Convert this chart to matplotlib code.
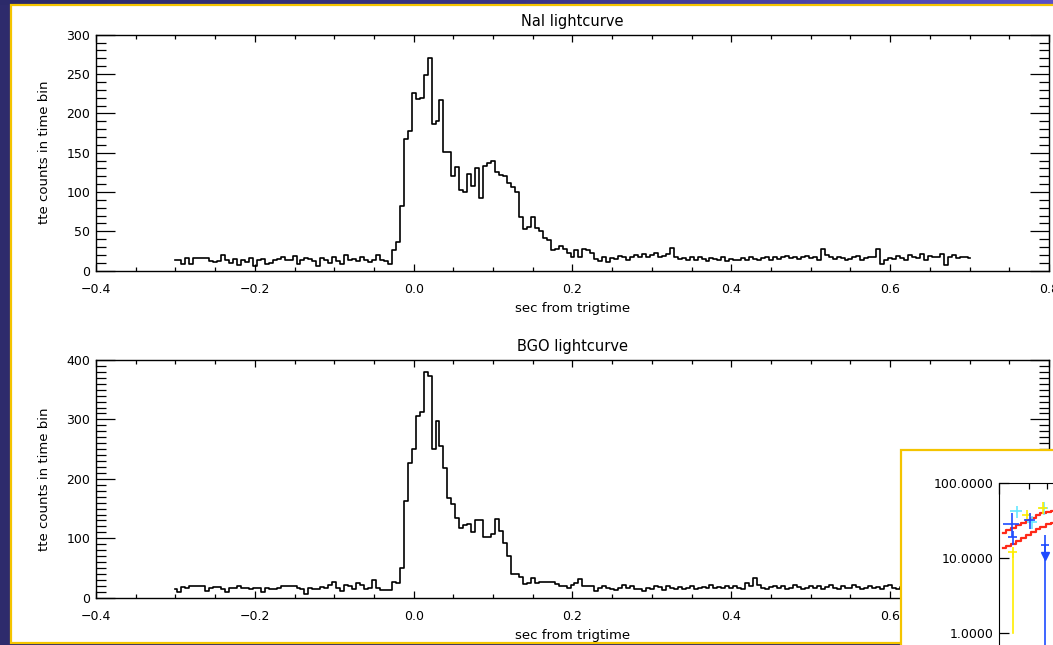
import matplotlib.pyplot as plt
import numpy as np
from matplotlib.patches import Rectangle
from matplotlib.colors import LinearSegmentedColormap
from matplotlib.ticker import MultipleLocator, LogLocator, FormatStrFormatter

# light curves: counts per 5 ms bin, bins centred from -0.3 s to 0.7 s
bin_start = -0.3
bin_width = 0.005

nai_counts = [
    13, 13, 9, 16, 9, 16, 16, 16, 16, 12, 11, 12, 20, 13, 10, 15, 7, 13, 11, 16,
    6, 14, 15, 8, 10, 14, 15, 18, 13, 14, 19, 9, 14, 16, 15, 12, 6, 16, 14, 10,
    17, 12, 9, 20, 13, 15, 12, 18, 14, 11, 13, 20, 14, 12,
    9, 26, 37, 82, 167, 177, 226, 218, 219, 249, 270, 187, 190, 217, 151, 151,
    120, 132, 102, 100, 123, 108, 131, 92, 133, 137, 139, 126, 122, 120, 112, 107,
    100, 68, 53, 55, 68, 54, 50, 41, 39, 26, 28, 32, 28, 22, 18, 26, 18, 28, 26,
    22, 15,
    12, 17, 11, 16, 15, 19, 17, 13, 18, 20,
    17, 21, 18, 20, 23, 17, 19, 21, 29, 18,
    15, 16, 13, 17, 14, 18, 15, 12, 16, 15,
    13, 17, 12, 15, 13, 14, 16, 13, 17, 15,
    14, 16, 17, 14, 18, 15, 17, 19, 16, 18,
    15, 17, 19, 16, 18, 14, 27, 20, 17, 15,
    18, 16, 13, 15, 17, 19, 14, 16, 18, 17,
    27, 9, 13, 16, 15, 19, 16, 14, 20, 17,
    16, 21, 14, 19, 17, 18, 21, 7, 18, 20,
    16, 17, 18, 16,
]

bgo_counts = [
    14, 10, 18, 17, 20, 20, 20, 20, 11, 17, 18, 18, 14, 10, 16, 16, 20, 17, 17, 14,
    16, 16, 10, 17, 15, 14, 17, 20, 20, 20, 20, 16, 15, 7, 16, 15, 14, 18, 16, 22,
    26, 16, 12, 21, 19, 15, 24, 21, 14, 17, 30, 16, 13,
    13, 13, 27, 25, 50, 162, 227, 250, 305, 313, 379, 373, 250, 297, 255, 218, 168,
    158, 134, 117, 123, 124, 110, 130, 130, 102, 102, 108, 132, 113, 92, 70, 40,
    40, 35, 23, 25, 33, 25, 27, 27, 27, 27, 23, 20, 20, 16, 21, 24, 31, 20, 20,
    20, 12,
    16, 20, 17, 15, 13, 16, 21, 17, 19, 14,
    14, 12, 17, 15, 20, 18, 13, 19, 17, 15,
    18, 14, 17, 20, 15, 17, 18, 16, 21, 17,
    18, 16, 19, 17, 20, 16, 15, 24, 19, 33,
    21, 17, 14, 18, 20, 16, 19, 15, 17, 22,
    18, 14, 17, 20, 16, 19, 15, 18, 21, 17,
    14, 19, 17, 16, 22, 18, 15, 17, 20, 16,
    18, 15, 19, 21, 17, 14, 18, 20, 16, 19,
    17, 22, 15, 18, 16, 20, 17, 14, 19, 18,
    16, 20, 17, 18,
]

# bits of the spectrum plot pasted over the corner (energy keV, rate)
spec_cyan_e = [15.0, 21.4, 28.0]
spec_cyan_r = [42.0, 30.0, 46.0]
spec_blue_e = [13.4, 13.8, 20.4]
spec_blue_r = [28.0, 19.0, 32.0]
spec_blue_lim_e = [28.8]
spec_blue_lim_r = [15.0]
spec_yellow_e = [13.8, 27.5, 19.0]
spec_yellow_r = [12.0, 47.0, 38.0]
model_e = [11.0, 12.5, 14.0, 15.5, 17.5, 19.5, 22.0, 24.5, 27.5, 31.0, 35.0]
model_hi = [21.5, 23.5, 25.5, 27.5, 29.5, 32.0, 34.5, 37.0, 39.5, 41.0, 42.0]
model_lo = [13.5, 14.5, 15.5, 17.0, 18.5, 20.0, 22.0, 24.0, 26.0, 28.0, 29.5]

W, H = 1053, 645
fig = plt.figure(figsize=(W / 100, H / 100), dpi=100)
fig.patch.set_facecolor('#2e2b6c')

# slide title strip, dark on the left going lighter to the right
strip = fig.add_axes([0, 1 - 5 / H, 1, 5 / H], zorder=-6)
strip.imshow([np.linspace(0, 1, 256)], aspect='auto', extent=(0, 1, 0, 1),
             cmap=LinearSegmentedColormap.from_list('s', ['#2c2a6a', '#3a3488', '#5a50c6']))
strip.set_axis_off()

# slide: white panel with yellow rim
fig.add_artist(Rectangle((11 / W, 1 - 643 / H), 1.2, (643 - 5) / H,
                         transform=fig.transFigure, facecolor='white',
                         edgecolor='#f4c400', lw=1.6, zorder=-5))

times = bin_start + bin_width * np.arange(len(nai_counts))


def lightcurve(rect, counts, title, ymax, ymajor):
    ax = fig.add_axes(rect)
    ax.patch.set_visible(False)
    ax.step(times, counts, where='mid', color='black', lw=1.2)
    ax.set_xlim(-0.4, 0.8)
    ax.set_ylim(0, ymax)
    ax.xaxis.set_major_locator(MultipleLocator(0.2))
    ax.xaxis.set_minor_locator(MultipleLocator(0.05))
    ax.yaxis.set_major_locator(MultipleLocator(ymajor))
    ax.yaxis.set_minor_locator(MultipleLocator(10))
    ax.tick_params(which='both', direction='in', top=True, right=True,
                   width=0.9, labelsize=9)
    ax.tick_params(axis='x', which='major', length=5, pad=8.5)
    ax.tick_params(axis='x', which='minor', length=3)
    ax.tick_params(axis='y', which='major', length=13.5, pad=4)
    ax.tick_params(axis='y', which='minor', length=7)
    for s in ax.spines.values():
        s.set_linewidth(1.0)
    ax.set_title(title, fontsize=10.5, pad=6.5)
    ax.set_xlabel('sec from trigtime', fontsize=9.5)
    ax.set_ylabel('tte counts in time bin', fontsize=9.5)
    ax.xaxis.set_label_coords(0.5, -0.133)
    ax.yaxis.set_label_coords(-0.047, 0.5)
    return ax


lightcurve([96 / W, 1 - 270.7 / H, 953 / W, 236 / H], nai_counts,
           'NaI lightcurve', 300, 50)
lightcurve([96 / W, 1 - 597.7 / H, 953 / W, 237.7 / H], bgo_counts,
           'BGO lightcurve', 400, 100)

# pasted spectrum panel in the lower right corner
fig.add_artist(Rectangle((901 / W, -0.2), 0.3, 0.2 + 1 - 450 / H,
                         transform=fig.transFigure, facecolor='white',
                         edgecolor='#f4c400', lw=1.6, zorder=3))
ins = fig.add_axes([999 / W, 1 - 708 / H, 300 / W, 225 / H], zorder=4)
ins.set_xscale('log')
ins.set_yscale('log')
ins.set_xlim(10, 10000)
ins.set_ylim(0.1, 100)
ins.step(model_e, model_hi, where='mid', color='#ff2a1a', lw=1.6)
ins.step(model_e, model_lo, where='mid', color='#ff2a1a', lw=1.6)
ins.plot([13.8, 13.8], [12.0, 1.0], color='#ffee00', lw=1.2)
ins.plot([28.8, 28.8], [15.0, 0.1], color='#1e4bff', lw=1.2)
ins.errorbar(spec_cyan_e, spec_cyan_r, xerr=[[2, 2.5, 3], [2, 2.5, 3]],
             yerr=[[8, 6, 9], [8, 6, 9]], fmt='none', ecolor='#66e8ff', lw=1.2)
ins.errorbar(spec_yellow_e, spec_yellow_r, xerr=[[1.5, 3, 2], [1.5, 3, 2]],
             yerr=[[2, 8, 6], [2, 8, 6]], fmt='none', ecolor='#ffee00', lw=1.2)
ins.errorbar(spec_blue_e, spec_blue_r, xerr=[[2.5, 1.5, 2.5], [2.5, 1.5, 2.5]],
             yerr=[[9, 4, 8], [12, 4, 8]], fmt='none', ecolor='#1e4bff', lw=1.2)
ins.errorbar(spec_blue_lim_e, spec_blue_lim_r, xerr=[[2.5], [2.5]],
             yerr=[[5]], fmt='none', ecolor='#1e4bff', lw=1.2)
ins.plot(spec_blue_lim_e, [10.5], marker='v', color='#1e4bff', ms=6)
ins.yaxis.set_major_locator(LogLocator(base=10, numticks=10))
ins.yaxis.set_major_formatter(FormatStrFormatter('%.4f'))
ins.yaxis.set_minor_locator(LogLocator(base=10, subs=[], numticks=10))
ins.tick_params(which='both', direction='in', top=True, labelsize=9,
                width=0.9)
ins.tick_params(axis='y', which='major', length=7, pad=4)
ins.tick_params(axis='x', which='major', length=8)
ins.tick_params(axis='x', which='minor', length=4)

fig.savefig('out.png', dpi=100, facecolor=fig.get_facecolor())
